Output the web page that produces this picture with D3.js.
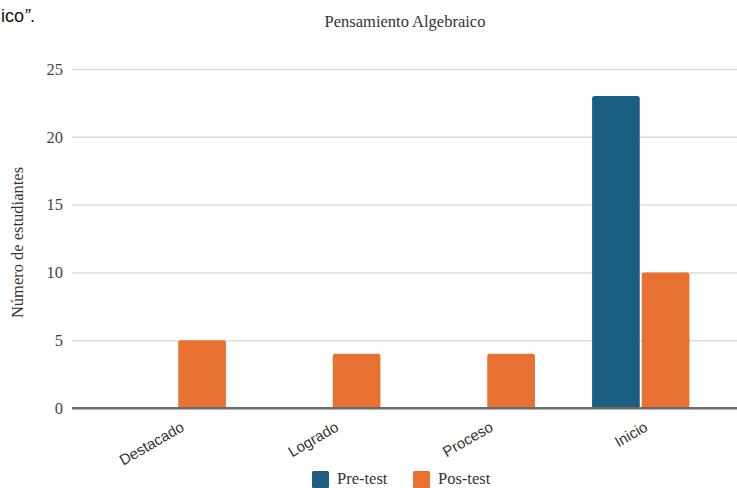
<!DOCTYPE html>
<html>
<head>
<meta charset="utf-8">
<script src="https://cdn.jsdelivr.net/npm/d3@7"></script>
<style>
  html, body { margin: 0; padding: 0; background: #fff; }
  svg { display: block; }
  .serif { font-family: "Liberation Serif", "Times New Roman", Times, serif; }
  .sans { font-family: "Liberation Sans", Arial, Helvetica, sans-serif; }
</style>
</head>
<body>
<svg id="chart" width="737" height="488"></svg>
<script>
// Categories, series and values
const categories = ["Destacado", "Logrado", "Proceso", "Inicio"];
const seriesNames = ["Pre-test", "Pos-test"];
const preTest = [0, 0, 0, 23];
const posTest = [5, 4, 4, 10];
const yTicks = [0, 5, 10, 15, 20, 25];
const colors = ["#1a5e82", "#e87132"];

const rows = categories.map((c, i) => ({
  category: c,
  values: [
    { series: seriesNames[0], value: preTest[i] },
    { series: seriesNames[1], value: posTest[i] }
  ]
}));

const svg = d3.select("#chart");

const gridLeft = 72, gridRight = 737;

const x0 = d3.scaleBand()
  .domain(categories)
  .range([100, 718])
  .paddingInner(0.37)
  .paddingOuter(0.185);

const x1 = d3.scaleBand()
  .domain(seriesNames)
  .range([0, x0.bandwidth()])
  .paddingInner(0.04);

const y = d3.scaleLinear().domain([0, 25]).range([408, 69]);
const color = d3.scaleOrdinal().domain(seriesNames).range(colors);

// Caption fragment carried over from the preceding text
svg.append("text")
  .attr("class", "sans")
  .attr("x", 1).attr("y", 22)
  .attr("font-size", 18).attr("fill", "#111")
  .call(t => {
    t.append("tspan").text("ico");
    t.append("tspan").attr("font-style", "italic").text("”");
    t.append("tspan").text(".");
  });

// Title
svg.append("text")
  .attr("class", "serif")
  .attr("x", 405).attr("y", 27)
  .attr("text-anchor", "middle")
  .attr("font-size", 16.5).attr("fill", "#333")
  .text("Pensamiento Algebraico");

// Horizontal gridlines and y labels
const yAxis = d3.axisLeft(y).tickValues(yTicks).tickSize(0).tickPadding(0);
const yg = svg.append("g").attr("transform", `translate(${gridLeft},0)`).call(yAxis)
  .attr("font-family", null).attr("font-size", null);
yg.select(".domain").remove();
yg.selectAll(".tick text")
  .attr("class", "serif")
  .attr("x", -9)
  .attr("font-size", 16.5).attr("fill", "#444");
yg.selectAll(".tick").append("line")
  .attr("x1", 0).attr("x2", gridRight - gridLeft)
  .attr("stroke", d => d === 0 ? "#6b6b6b" : "#dcdcdc")
  .attr("stroke-width", d => d === 0 ? 2 : 1.5);

// Y axis title
svg.append("text")
  .attr("class", "serif")
  .attr("transform", `translate(23,${y(12.5) + 4}) rotate(-90)`)
  .attr("text-anchor", "middle")
  .attr("font-size", 16.5).attr("fill", "#333")
  .text("Número de estudiantes");

// Bars with slightly rounded top corners
function topRounded(x, yTop, w, h, r) {
  if (h <= 0) return "";
  r = Math.min(r, h, w / 2);
  return `M${x},${yTop + h}V${yTop + r}Q${x},${yTop} ${x + r},${yTop}` +
         `H${x + w - r}Q${x + w},${yTop} ${x + w},${yTop + r}V${yTop + h}Z`;
}

const groups = svg.append("g").selectAll("g")
  .data(rows).join("g")
  .attr("transform", d => `translate(${x0(d.category)},0)`);

groups.selectAll("path")
  .data(d => d.values).join("path")
  .attr("d", d => topRounded(x1(d.series), y(d.value), x1.bandwidth(), y(0) - y(d.value), 2.5))
  .attr("fill", d => color(d.series));

// Baseline drawn over the bars
svg.append("line")
  .attr("x1", gridLeft).attr("x2", gridRight)
  .attr("y1", y(0)).attr("y2", y(0))
  .attr("stroke", "#6b6b6b").attr("stroke-width", 2);

// Rotated category labels
const xAxis = d3.axisBottom(x0).tickSize(0).tickPadding(0);
const xg = svg.append("g").attr("transform", `translate(0,${y(0)})`).call(xAxis)
  .attr("font-family", null).attr("font-size", null);
xg.select(".domain").remove();
xg.selectAll(".tick text")
  .attr("class", "sans")
  .attr("font-size", 15).attr("fill", "#333")
  .attr("text-anchor", "end")
  .attr("dy", 0)
  .attr("transform", "translate(8,22) rotate(-30)");

// Legend
const legendX = [312, 413];
const legend = svg.append("g").selectAll("g")
  .data(seriesNames).join("g")
  .attr("transform", (d, i) => `translate(${legendX[i]},471)`);
legend.append("rect")
  .attr("width", 17).attr("height", 17).attr("rx", 1.5)
  .attr("fill", d => color(d));
legend.append("text")
  .attr("class", "serif")
  .attr("x", 25).attr("y", 13)
  .attr("font-size", 16.5).attr("fill", "#333")
  .text(d => d);
</script>
</body>
</html>
